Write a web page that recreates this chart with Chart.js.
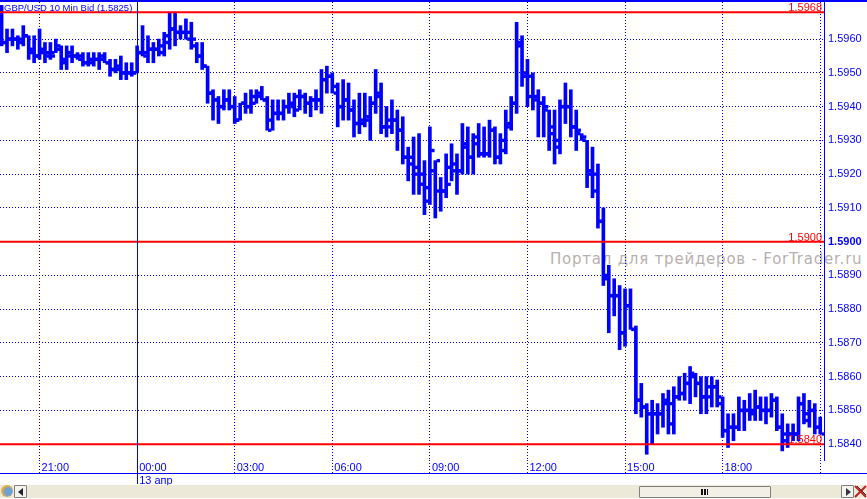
<!DOCTYPE html>
<html lang="en">
<head>
    <meta charset="UTF-8">
    <title>GBP/USD 10 Min Bid</title>
    <script src="https://cdnjs.cloudflare.com/ajax/libs/Chart.js/4.4.1/chart.umd.min.js"></script>
    <style>
        html, body { margin: 0; padding: 0; background: #fff; overflow: hidden; }
        #page { position: relative; width: 867px; height: 499px; overflow: hidden; }
        #topline { position: absolute; left: 0; top: 0; width: 867px; height: 2px; background: #0000ff; }
        #watermark {
            position: absolute; left: 550px; top: 250px; white-space: nowrap; letter-spacing: 0.78px;
            font: 15px "DejaVu Sans", sans-serif; color: #b8b0b0;
        }
        #priceChart { position: absolute; left: 0; top: 0; }
        #strip { position: absolute; left: 0; top: 485px; width: 867px; height: 13px; background: #ece9d8; }
        #ball {
            position: absolute; left: 1px; top: 0; width: 12px; height: 12px; border-radius: 50%;
            background: radial-gradient(circle at 60% 55%, #6f9fd8 0 35%, #f0b030 65%);
        }
        .btn {
            position: absolute; top: 0; width: 11px; height: 11px;
            border: 1px solid #808080; background: #f4f3ee; border-radius: 1px;
        }
        .tri { position: absolute; top: 2px; width: 0; height: 0; border-top: 4px solid transparent; border-bottom: 4px solid transparent; }
        #thumb {
            position: absolute; left: 639px; top: 1px; width: 130px; height: 10px;
            border: 1px solid #808080; background: #f1efe6; border-radius: 1px;
        }
        #grip {
            position: absolute; left: 61px; top: 2px; width: 7px; height: 6px;
            background: repeating-linear-gradient(90deg, #111 0 2px, transparent 2px 3px);
        }
        #close { position: absolute; left: 854px; top: 0; }
    </style>
</head>
<body>
    <div id="page">
        <div id="watermark">Портал для трейдеров - ForTrader.ru</div>
        <canvas id="priceChart" width="867" height="485"></canvas>
        <div id="topline"></div>
        <div id="strip">
            <div id="ball"></div>
            <div class="btn" style="left:14px"><div class="tri" style="left:3px;border-right:5px solid #223;"></div></div>
            <div id="thumb"><div id="grip"></div></div>
            <div class="btn" style="left:841px"><div class="tri" style="left:4px;border-left:5px solid #334;"></div></div>
            <svg id="close" width="13" height="13"><path d="M1 1L12 12M12 1L1 12" stroke="#c02020" stroke-width="2"/><path d="M3 1L12 10" stroke="#333" stroke-width="1"/></svg>
        </div>
    </div>

    <script>
        const title = 'GBP/USD 10 Min Bid (1.5825)';

        const opens = [
            1.5969, 1.5959, 1.5960, 1.5960, 1.5960, 1.5961, 1.5957, 1.5955, 1.5956, 1.5956,
            1.5956, 1.5957, 1.5954, 1.5956, 1.5955, 1.5954, 1.5953, 1.5953, 1.5954, 1.5955,
            1.5953, 1.5951, 1.5952, 1.5950, 1.5950, 1.5950, 1.5956, 1.5955, 1.5957, 1.5957,
            1.5956, 1.5961, 1.5963, 1.5962, 1.5962, 1.5962, 1.5958, 1.5955, 1.5952, 1.5944,
            1.5942, 1.5940, 1.5942, 1.5940, 1.5936, 1.5941, 1.5940, 1.5943, 1.5944, 1.5942,
            1.5933, 1.5938, 1.5938, 1.5940, 1.5941, 1.5943, 1.5943, 1.5941, 1.5942, 1.5942,
            1.5948, 1.5949, 1.5946, 1.5940, 1.5942, 1.5939, 1.5935, 1.5936, 1.5936, 1.5941,
            1.5944, 1.5934, 1.5936, 1.5936, 1.5933, 1.5925, 1.5923, 1.5920, 1.5917, 1.5912,
            1.5921, 1.5915, 1.5915, 1.5922, 1.5921, 1.5921, 1.5929, 1.5925, 1.5929, 1.5926,
            1.5926, 1.5933, 1.5925, 1.5930, 1.5934, 1.5941, 1.5959, 1.5949, 1.5943, 1.5943,
            1.5941, 1.5939, 1.5932, 1.5928, 1.5940, 1.5940, 1.5934, 1.5932, 1.5930, 1.5920,
            1.5915, 1.5906, 1.5890, 1.5884, 1.5884, 1.5873, 1.5881, 1.5874, 1.5853, 1.5851,
            1.5849, 1.5849, 1.5849, 1.5852, 1.5846, 1.5854, 1.5855, 1.5858, 1.5861, 1.5858,
            1.5854, 1.5857, 1.5857, 1.5854, 1.5844, 1.5845, 1.5845, 1.5850, 1.5850, 1.5849,
            1.5851, 1.5850, 1.5850, 1.5853, 1.5845, 1.5841, 1.5843, 1.5843, 1.5852, 1.5849,
            1.5850, 1.5845
        ];
        const highs = [
            1.5970, 1.5963, 1.5963, 1.5961, 1.5964, 1.5961, 1.5961, 1.5963, 1.5959, 1.5959,
            1.5960, 1.5958, 1.5958, 1.5958, 1.5956, 1.5956, 1.5956, 1.5956, 1.5956, 1.5956,
            1.5954, 1.5954, 1.5955, 1.5953, 1.5953, 1.5958, 1.5964, 1.5961, 1.5959, 1.5960,
            1.5962, 1.5968, 1.5968, 1.5964, 1.5966, 1.5965, 1.5959, 1.5959, 1.5952, 1.5945,
            1.5943, 1.5945, 1.5945, 1.5943, 1.5941, 1.5944, 1.5945, 1.5945, 1.5946, 1.5943,
            1.5942, 1.5942, 1.5942, 1.5944, 1.5944, 1.5945, 1.5944, 1.5943, 1.5945, 1.5951,
            1.5952, 1.5950, 1.5947, 1.5948, 1.5947, 1.5942, 1.5944, 1.5944, 1.5943, 1.5951,
            1.5947, 1.5940, 1.5942, 1.5939, 1.5937, 1.5928, 1.5931, 1.5932, 1.5924, 1.5934,
            1.5924, 1.5919, 1.5926, 1.5929, 1.5926, 1.5935, 1.5934, 1.5932, 1.5935, 1.5934,
            1.5936, 1.5934, 1.5932, 1.5939, 1.5943, 1.5965, 1.5961, 1.5954, 1.5950, 1.5945,
            1.5943, 1.5939, 1.5939, 1.5942, 1.5947, 1.5945, 1.5939, 1.5932, 1.5930, 1.5928,
            1.5923, 1.5910, 1.5893, 1.5889, 1.5887, 1.5886, 1.5886, 1.5875, 1.5858, 1.5852,
            1.5853, 1.5852, 1.5855, 1.5856, 1.5857, 1.5860, 1.5861, 1.5863, 1.5861, 1.5860,
            1.5860, 1.5860, 1.5859, 1.5854, 1.5849, 1.5849, 1.5854, 1.5853, 1.5855, 1.5856,
            1.5854, 1.5854, 1.5855, 1.5854, 1.5849, 1.5846, 1.5846, 1.5854, 1.5855, 1.5853,
            1.5852, 1.5848
        ];
        const lows = [
            1.5958, 1.5956, 1.5958, 1.5957, 1.5958, 1.5954, 1.5953, 1.5954, 1.5953, 1.5954,
            1.5956, 1.5951, 1.5951, 1.5953, 1.5954, 1.5952, 1.5952, 1.5952, 1.5951, 1.5953,
            1.5949, 1.5950, 1.5948, 1.5948, 1.5949, 1.5950, 1.5955, 1.5953, 1.5953, 1.5955,
            1.5955, 1.5957, 1.5958, 1.5960, 1.5960, 1.5957, 1.5953, 1.5951, 1.5941, 1.5936,
            1.5935, 1.5939, 1.5939, 1.5935, 1.5936, 1.5938, 1.5938, 1.5941, 1.5942, 1.5933,
            1.5933, 1.5936, 1.5936, 1.5938, 1.5937, 1.5939, 1.5938, 1.5937, 1.5939, 1.5938,
            1.5944, 1.5944, 1.5934, 1.5936, 1.5936, 1.5931, 1.5932, 1.5934, 1.5930, 1.5938,
            1.5932, 1.5931, 1.5932, 1.5927, 1.5923, 1.5918, 1.5914, 1.5914, 1.5908, 1.5911,
            1.5907, 1.5909, 1.5913, 1.5918, 1.5914, 1.5920, 1.5920, 1.5920, 1.5925, 1.5925,
            1.5925, 1.5923, 1.5923, 1.5926, 1.5933, 1.5938, 1.5946, 1.5940, 1.5939, 1.5931,
            1.5931, 1.5927, 1.5923, 1.5926, 1.5935, 1.5931, 1.5927, 1.5930, 1.5916, 1.5913,
            1.5904, 1.5887, 1.5873, 1.5878, 1.5868, 1.5869, 1.5874, 1.5849, 1.5848, 1.5837,
            1.5840, 1.5843, 1.5845, 1.5843, 1.5843, 1.5853, 1.5853, 1.5852, 1.5854, 1.5849,
            1.5849, 1.5851, 1.5851, 1.5842, 1.5839, 1.5841, 1.5844, 1.5844, 1.5847, 1.5847,
            1.5847, 1.5846, 1.5848, 1.5844, 1.5838, 1.5839, 1.5841, 1.5841, 1.5846, 1.5845,
            1.5843, 1.5843
        ];
        const closes = [
            1.5959, 1.5960, 1.5960, 1.5959, 1.5961, 1.5956, 1.5955, 1.5957, 1.5955, 1.5955,
            1.5958, 1.5953, 1.5955, 1.5955, 1.5955, 1.5953, 1.5954, 1.5954, 1.5954, 1.5953,
            1.5951, 1.5951, 1.5950, 1.5950, 1.5950, 1.5956, 1.5956, 1.5957, 1.5957, 1.5958,
            1.5959, 1.5963, 1.5962, 1.5962, 1.5960, 1.5960, 1.5955, 1.5952, 1.5944, 1.5942,
            1.5940, 1.5942, 1.5940, 1.5936, 1.5941, 1.5940, 1.5941, 1.5943, 1.5942, 1.5936,
            1.5938, 1.5938, 1.5940, 1.5940, 1.5939, 1.5943, 1.5941, 1.5942, 1.5942, 1.5948,
            1.5949, 1.5944, 1.5940, 1.5942, 1.5939, 1.5935, 1.5935, 1.5937, 1.5941, 1.5943,
            1.5934, 1.5934, 1.5936, 1.5933, 1.5925, 1.5925, 1.5922, 1.5920, 1.5916, 1.5927,
            1.5924, 1.5915, 1.5917, 1.5923, 1.5921, 1.5928, 1.5925, 1.5931, 1.5926, 1.5926,
            1.5933, 1.5925, 1.5927, 1.5935, 1.5941, 1.5958, 1.5950, 1.5949, 1.5942, 1.5941,
            1.5940, 1.5934, 1.5930, 1.5940, 1.5940, 1.5934, 1.5933, 1.5931, 1.5921, 1.5920,
            1.5906, 1.5889, 1.5884, 1.5884, 1.5873, 1.5881, 1.5874, 1.5853, 1.5851, 1.5849,
            1.5849, 1.5849, 1.5853, 1.5852, 1.5854, 1.5855, 1.5858, 1.5860, 1.5858, 1.5854,
            1.5854, 1.5857, 1.5852, 1.5844, 1.5845, 1.5845, 1.5850, 1.5850, 1.5850, 1.5851,
            1.5850, 1.5850, 1.5853, 1.5845, 1.5843, 1.5843, 1.5843, 1.5852, 1.5847, 1.5850,
            1.5845, 1.5843
        ];

        // bar number of each vertical grid line and what is written next to it
        const timeTickBars = [7, 25, 43, 61, 79, 97, 115, 133, 151];
        const timeTickLabels = ['21:00', ['00:00', '13 апр'], '03:00', '06:00', '09:00', '12:00', '15:00', '18:00', ''];
        const midnightBar = 25;

        const priceTicks = [1.584, 1.585, 1.586, 1.587, 1.588, 1.589, 1.59, 1.591, 1.592, 1.593, 1.594, 1.595, 1.596];
        const boldPrice = 1.59;
        const levels = [1.5968, 1.59, 1.584];

        const blue = '#0000ff';
        const red = '#ff0000';
        const tickShift = 0.55;   // open/close ticks sit this many bars left/right of the stem
        const xMin = -0.295, xMax = 151.7;

        const stems = highs.map((h, i) => ({ x: i, y: [lows[i], h] }));
        const openMarks = opens.map((v, i) => ({ x: i - tickShift, y: v }));
        const closeMarks = closes.map((v, i) => ({ x: i + tickShift, y: v }));
        const levelLines = levels.map(v => ({
            type: 'line',
            data: [{ x: xMin, y: v }, { x: xMax, y: v }],
            borderColor: red,
            borderWidth: 2,
            pointRadius: 0,
            order: 1
        }));

        const markStyle = {
            type: 'line',
            showLine: false,
            pointStyle: 'rect',
            pointRadius: 2.4,
            pointBackgroundColor: blue,
            pointBorderWidth: 0,
            order: 2
        };

        // things MetaTrader draws on top of the plot: caption, level values, day rule, time rule
        const overlay = {
            id: 'overlay',
            afterDraw(chart) {
                const { ctx, scales, chartArea } = chart;
                ctx.save();
                ctx.fillStyle = blue;
                ctx.font = '9.5px "Liberation Sans", Arial, sans-serif';
                ctx.textAlign = 'left';
                ctx.textBaseline = 'alphabetic';
                ctx.fillText(title, 4, 11);

                ctx.fillStyle = red;
                ctx.font = '11px "Liberation Sans", Arial, sans-serif';
                ctx.textAlign = 'right';
                levels.forEach(v => ctx.fillText(v.toFixed(4), chartArea.right - 2, scales.y.getPixelForValue(v) - 1));

                ctx.fillStyle = blue;
                ctx.fillRect(0, 473, chart.width, 1);
                ctx.fillRect(Math.round(scales.x.getPixelForValue(midnightBar)), 2, 1, 482);
                ctx.restore();
            }
        };

        new Chart(document.getElementById('priceChart'), {
            data: {
                datasets: [
                    {
                        type: 'bar',
                        data: stems,
                        backgroundColor: blue,
                        barThickness: 3,
                        borderSkipped: false,
                        order: 3
                    },
                    { ...markStyle, data: openMarks },
                    { ...markStyle, data: closeMarks },
                    ...levelLines
                ]
            },
            options: {
                responsive: false,
                animation: false,
                events: [],
                layout: { autoPadding: false, padding: { top: 2, left: 0, right: 0, bottom: 0 } },
                plugins: { legend: { display: false }, tooltip: { enabled: false } },
                scales: {
                    x: {
                        type: 'linear',
                        min: xMin,
                        max: xMax,
                        offset: false,
                        afterBuildTicks(scale) {
                            scale.ticks = timeTickBars.map(v => ({ value: v }));
                        },
                        afterFit(scale) {
                            scale.height = 25;
                            scale.paddingLeft = 0;
                            scale.paddingRight = 0;
                        },
                        grid: {
                            offset: false,
                            color: blue,
                            tickColor: blue,
                            tickLength: 13,
                            tickBorderDash: [1, 2]
                        },
                        border: { display: false, dash: [1, 2] },
                        ticks: {
                            autoSkip: false,
                            maxRotation: 0,
                            minRotation: 0,
                            align: 'start',
                            labelOffset: 2,
                            padding: -12,
                            color: blue,
                            font: { family: '"Liberation Sans", Arial, sans-serif', size: 11, lineHeight: 1.18 },
                            callback(value) { return timeTickLabels[timeTickBars.indexOf(value)]; }
                        }
                    },
                    y: {
                        position: 'right',
                        min: 1.58353,
                        max: 1.5971,
                        afterBuildTicks(scale) {
                            scale.ticks = priceTicks.map(v => ({ value: v }));
                        },
                        afterFit(scale) {
                            scale.width = 43;
                            scale.paddingTop = 0;
                            scale.paddingBottom = 0;
                        },
                        grid: { color: blue, drawTicks: false },
                        border: { display: true, color: blue, dash: [1, 2] },
                        ticks: {
                            padding: 4,
                            color: blue,
                            font(ctx) {
                                const bold = ctx.tick && Math.abs(ctx.tick.value - boldPrice) < 1e-6;
                                return { family: '"Liberation Sans", Arial, sans-serif', size: 11, weight: bold ? 'bold' : 'normal' };
                            },
                            callback(value) { return value.toFixed(4); }
                        }
                    }
                }
            },
            plugins: [overlay]
        });
    </script>
</body>
</html>
